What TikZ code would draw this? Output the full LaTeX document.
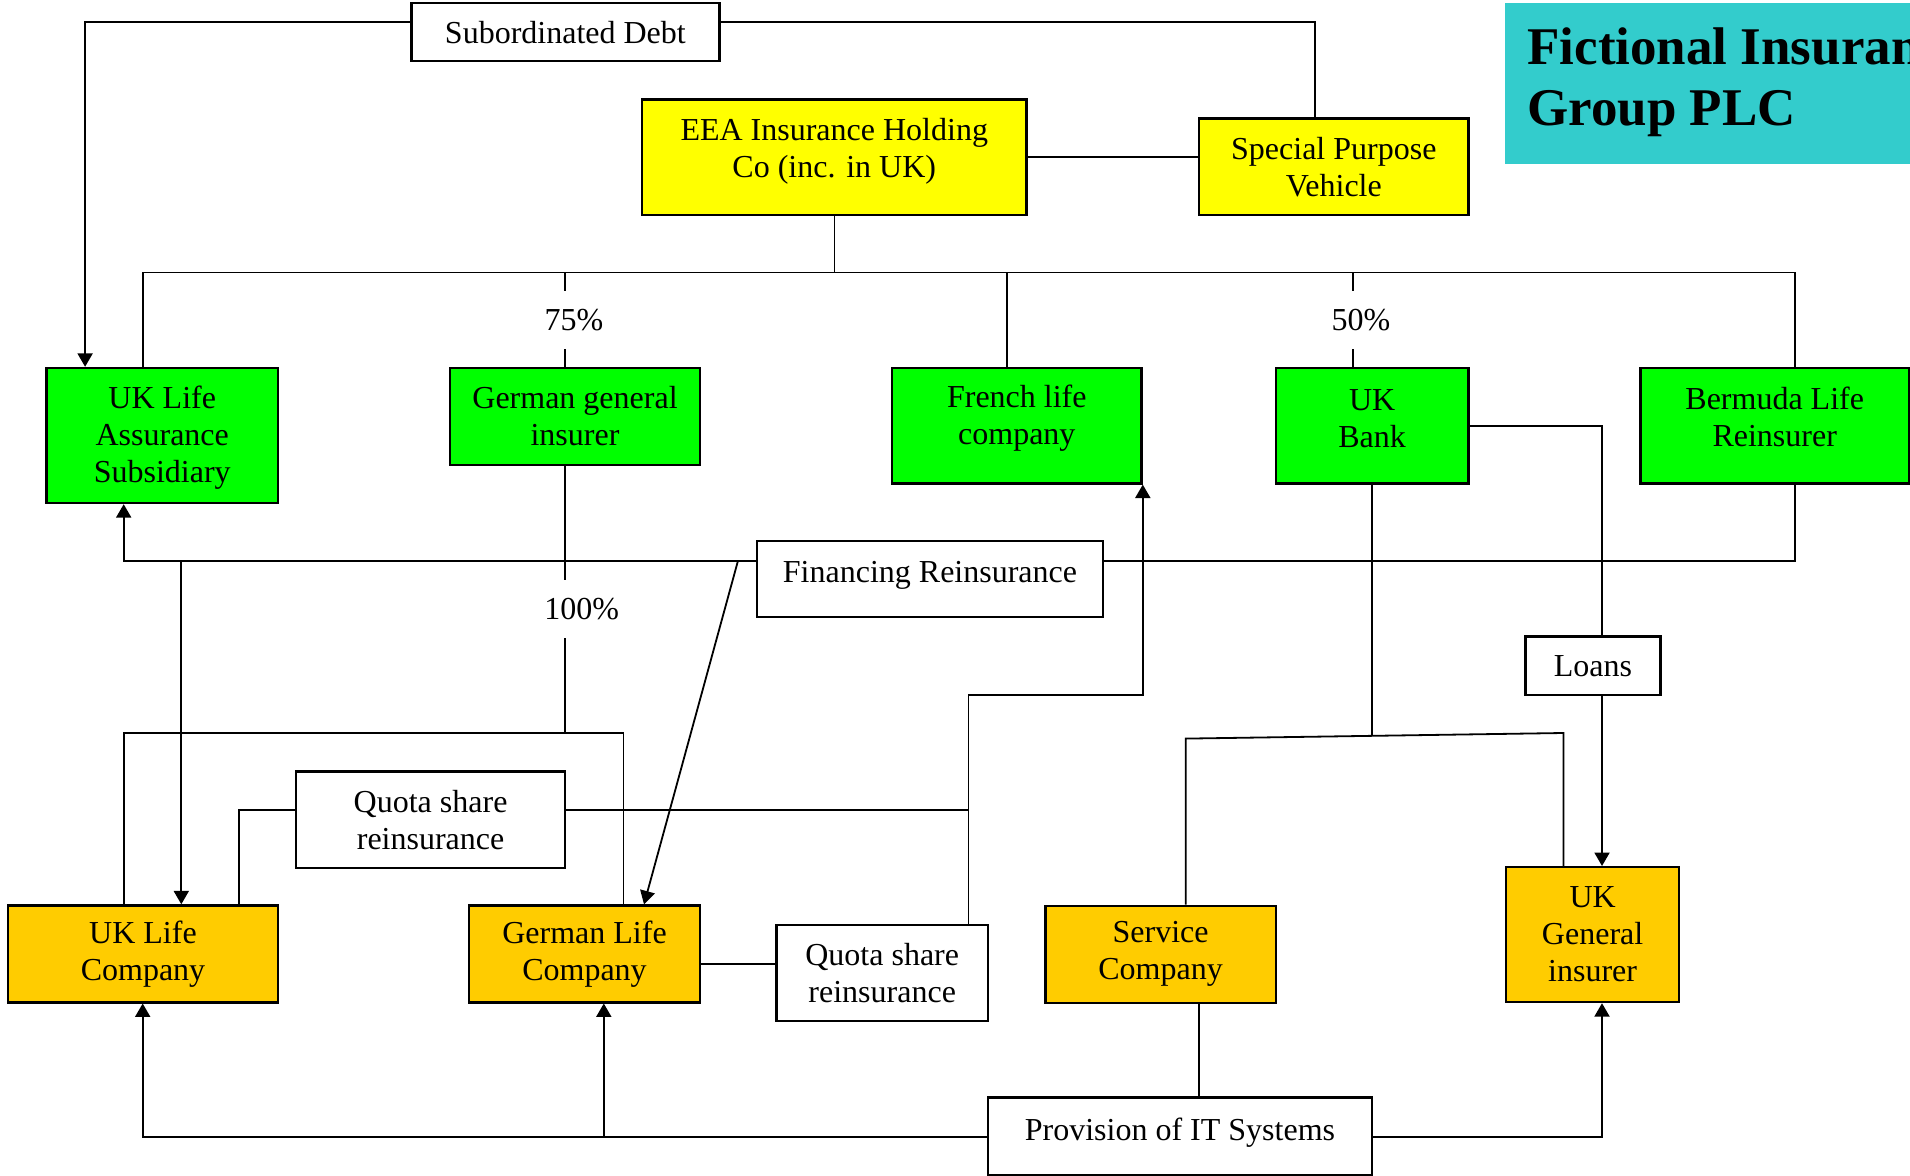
\documentclass[tikz,border=0pt]{standalone}
\usepackage{fontspec}
\setmainfont{Liberation Serif}
\usetikzlibrary{arrows.meta}
\definecolor{cgreen}{RGB}{0,255,0}
\definecolor{cyellow}{RGB}{255,255,0}
\definecolor{corange}{RGB}{255,204,0}
\definecolor{ccyan}{RGB}{51,204,204}
\begin{document}
\begin{tikzpicture}[x=0.5pt,y=-0.5pt,
  box/.style={draw, line width=1.2pt, rectangle, align=center, inner sep=0pt,
    font=\fontsize{16}{18.5}\selectfont},
  gbox/.style={box, fill=cgreen},
  ybox/.style={box, fill=cyellow},
  obox/.style={box, fill=corange},
  wbox/.style={box, fill=white},
  conn/.style={line width=0.9pt},
  arr/.style={conn, -{Triangle[length=6.7pt,width=7.5pt]}},
  pct/.style={inner sep=0pt, minimum height=29pt, font=\fontsize{16}{18.5}\selectfont}]
\useasboundingbox (0,0) rectangle (1910,1176);
\clip (0,0) rectangle (1910,1176);

% title
\node[fill=ccyan, minimum width=212.5pt, minimum height=80.55pt, inner sep=0pt] (title) at (1717.5,83.25) {};
\node[anchor=north west, inner sep=0pt, align=left, font=\fontsize{26.5}{30.5}\selectfont\bfseries] (titletext) at (1527,27) {Fictional Insurance\\Group PLC};

% boxes
\node[wbox, minimum width=154pt, minimum height=29pt] (sub) at (565.4,32.2) {Subordinated Debt};
\node[ybox, minimum width=192.25pt, minimum height=57.75pt, text depth=9.5pt] (eea) at (834.25,157.25) {EEA Insurance Holding\\Co (inc. in UK)};
\node[ybox, minimum width=134.8pt, minimum height=48.2pt] (spv) at (1333.8,166.8) {Special Purpose\\Vehicle};
\node[gbox, minimum width=115.75pt, minimum height=67.5pt, text depth=1.5pt] (ukla) at (162.25,435.5) {UK Life\\Assurance\\Subsidiary};
\node[gbox, minimum width=125pt, minimum height=48.5pt] (ggi) at (575,416.5) {German general\\insurer};
\node[gbox, minimum width=124.8pt, minimum height=57.7pt, text depth=10.5pt] (flc) at (1016.8,425.7) {French life\\company};
\node[gbox, minimum width=96.45pt, minimum height=57.7pt, text depth=7pt] (ukb) at (1372.15,425.7) {UK\\Bank};
\node[gbox, minimum width=134.1pt, minimum height=57.7pt, text depth=9pt] (bml) at (1774.7,425.7) {Bermuda Life\\Reinsurer};
\node[wbox, minimum width=173pt, minimum height=38.25pt, text depth=7.5pt] (fin) at (930,579) {Financing Reinsurance};
\node[obox, minimum width=135pt, minimum height=48.4pt] (ukl) at (143,953.9) {UK Life\\Company};
\node[obox, minimum width=115.5pt, minimum height=48.4pt] (gl) at (584.5,953.9) {German Life\\Company};
\node[wbox, minimum width=134.35pt, minimum height=48.2pt] (qs1) at (430.6,819.8) {Quota share\\reinsurance};
\node[wbox, minimum width=105.75pt, minimum height=48pt] (qs2) at (882.2,973) {Quota share\\reinsurance};
\node[wbox, minimum width=67.35pt, minimum height=29.25pt] (loans) at (1593,665.7) {Loans};
\node[obox, minimum width=86.65pt, minimum height=67.4pt] (ukgi) at (1592.6,934.6) {UK\\General\\insurer};
\node[obox, minimum width=115.15pt, minimum height=48.4pt] (svc) at (1160.6,954.3) {Service\\Company};
\node[wbox, minimum width=192pt, minimum height=38.7pt, text depth=7.5pt] (it) at (1180,1136.3) {Provision of IT Systems};

% percentage labels
\node[pct] (p75) at (574,320) {75\%};
\node[pct] (p50) at (1361,320) {50\%};
\node[pct] (p100) at (581.7,609) {100\%};

% subordinated debt
\draw[arr] (sub.west |- 0,22.2) -| (85.1,0 |- ukla.north);
\draw[conn] (sub.east |- 0,22.2) -| (1315,0 |- spv.north);
\draw[conn] (eea.east |- 0,157) -- (spv.west |- 0,157);

% ownership bus
\draw[conn] (834.5,0 |- eea.south) -- (834.5,272.5);
\draw[conn] (142.7,0 |- ukla.north) |- (1795,272.5) -- (1795,0 |- bml.north);
\draw[conn] (1007,0 |- flc.north) -- (1007,272.5);
\draw[conn] (565,272.5) -- (565,0 |- p75.north);
\draw[conn] (565,0 |- p75.south) -- (565,0 |- ggi.north);
\draw[conn] (1353,272.5) -- (1353,0 |- p50.north);
\draw[conn] (1353,0 |- p50.south) -- (1353,0 |- ukb.north);

% financing reinsurance
\draw[arr] (fin.west |- 0,560.7) -| (123.7,0 |- ukla.south);
\draw[conn] (fin.east |- 0,560.7) -| (1795,0 |- bml.south);
\draw[arr] (181.3,560.7) -- (181.3,0 |- ukl.north);
\draw[arr] (738,560.7) -- (644,0 |- gl.north);

% german general insurer 100%
\draw[conn] (565,0 |- ggi.south) -- (565,0 |- p100.north);
\draw[conn] (565,0 |- p100.south) -- (565,733);
\draw[conn] (123.7,0 |- ukl.north) |- (623.4,733) -- (623.4,0 |- gl.north);

% quota share
\draw[conn] (qs1.west |- 0,809.8) -| (238.8,0 |- ukl.north);
\draw[conn] (qs1.east |- 0,809.8) -- (968.4,809.8);
\draw[arr] (968.4,0 |- qs2.north) -- (968.4,694.6) -| (flc.south east);
\draw[conn] (gl.east |- 0,963.7) -- (qs2.west |- 0,963.7);

% IT systems
\draw[arr] (it.west |- 0,1136.6) -| (142.7,0 |- ukl.south);
\draw[arr] (603.8,1136.6) -- (603.8,0 |- gl.south);
\draw[arr] (it.east |- 0,1136.6) -| (1602,0 |- ukgi.south);
\draw[conn] (1199.2,0 |- svc.south) -- (1199.2,0 |- it.north);

% UK bank
\draw[conn] (ukb.east |- 0,426) -| (1602,0 |- loans.north);
\draw[arr] (1602,0 |- loans.south) -- (1602,0 |- ukgi.north);
\draw[conn] (1372,0 |- ukb.south) -- (1372,735.5);
\draw[conn] (1185.7,0 |- svc.north) -- (1185.7,738.6) -- (1563.5,733) -- (1563.5,0 |- ukgi.north);
\end{tikzpicture}
\end{document}
